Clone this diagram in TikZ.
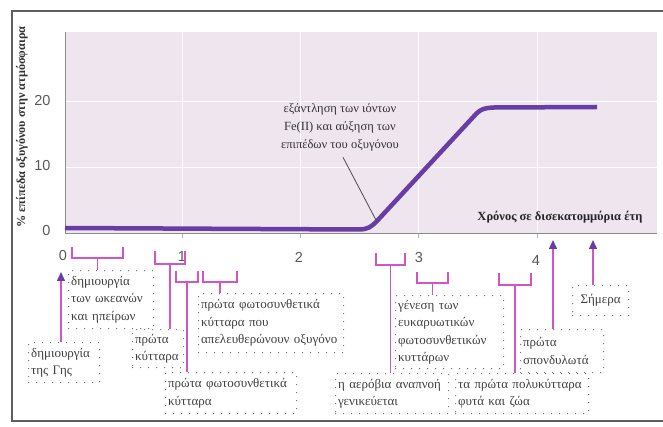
\documentclass[tikz,border=0pt]{standalone}
\usepackage{fontspec}
\setmainfont{Liberation Serif}
\newfontfamily\numfont{Liberation Sans}
\usetikzlibrary{arrows.meta}
\definecolor{plotbg}{RGB}{238,229,239}
\definecolor{curvecol}{RGB}{104,62,165}
\definecolor{brkcol}{RGB}{208,86,200}
\definecolor{framecol}{RGB}{95,95,95}
\definecolor{dotcol}{RGB}{105,105,105}
\newcommand{\brk}[5]{ \draw[brkline] (#2,#4) -- (#2,#5) -- (#3,#5) -- (#3,#4); \coordinate (#1) at ({(#2+#3)/2},#5);}
\tikzset{
  brkline/.style={brkcol, line width=1.5pt},
  evarrow/.style={brkcol, line width=1.5pt, -{Triangle[width=8pt,length=9pt,color=curvecol]}},
  evbox/.style={draw=dotcol, line width=1.3pt, dash pattern=on 0pt off 8pt, line cap=round,
    anchor=north west, inner xsep=2.5pt, inner ysep=0pt, align=left, text=black!75,
    font=\fontsize{13}{17.5}\selectfont},
  ticklbl/.style={font=\numfont\fontsize{14.5}{16}\selectfont, text=black!65},
}
\begin{document}
\begin{tikzpicture}[x=1pt, y=-1pt]
        \useasboundingbox (0,0) rectangle (663,427);
        % frame and plot
        \draw[framecol, line width=1.6pt] (663,11) -- (12,11) -- (12,421) -- (663,421);
        \fill[plotbg] (65,32) rectangle (657,233);
        \foreach \gx in {182,300,418,537} \draw[white, line width=1pt] (\gx,32) -- (\gx,233);
        \foreach \gy in {102,168} \draw[white, line width=1pt] (65,\gy) -- (657,\gy);
        \foreach \gx in {182,300,418,537} \draw[black!30] (\gx,233) -- (\gx,238);
        \draw[black!45] (65,32) -- (65,233) -- (657,233);

        % axis labels
        \node[ticklbl, anchor=east] (y20) at (54,101) {20};
        \node[ticklbl, anchor=east] (y10) at (54,166) {10};
        \node[ticklbl, anchor=east] (y0) at (54,231) {0};
        \node[ticklbl] (x0) at (63,256) {0};
        \node[ticklbl] (x1) at (182,257) {1};
        \node[ticklbl] (x2) at (299,257) {2};
        \node[ticklbl] (x3) at (419,258) {3};
        \node[ticklbl] (x4) at (536,261) {4};
        \node[rotate=90, text=black!80, font=\bfseries\fontsize{12.2}{13}\selectfont] (ytitle) at (22,127) {\% επίπεδα οξυγόνου στην ατμόσφαιρα};
        \node[text=black!85, font=\bfseries\fontsize{12.5}{14}\selectfont] (xtitle) at (560,217) {Χρόνος σε δισεκατομμύρια έτη};

        % oxygen curve
        \draw[curvecol, line width=4.5pt] (65,228) -- (358,229.5) .. controls (368,229.5) and (371,227) .. (377,221)
            -- (476,114) .. controls (481,109) and (484,108) .. (494,107.5) -- (597,107);
        \node[align=center, text=black!80, font=\fontsize{12.5}{18}\selectfont] (fe) at (340,127) {εξάντληση των ιόντων\\Fe(II) και αύξηση των\\επιπέδων του οξυγόνου};
        \coordinate (feEnd) at (377,222);
        \draw[black!70, line width=0.8pt] ([xshift=3pt,yshift=-3pt]fe.south) -- (feEnd);

        % brackets
        \brk{b1}{72}{123}{247}{258}
        \brk{b2}{155}{185}{251}{264}
        \brk{b3}{176}{198}{271}{282}
        \brk{b4}{203}{237}{271}{282}
        \brk{b5}{376}{405}{253}{265}
        \brk{b6}{417}{448}{272}{283}
        \brk{b7}{499}{531}{273}{285}

        % event boxes
        \node[evbox, text width=80pt, minimum height=58pt] (eOcean) at (68,270) {δημιουργία\\των ωκεανών\\και ηπείρων};
        \node[evbox, text width=66pt, minimum height=40pt] (eEarth) at (28,342) {δημιουργία\\της Γης};
        \node[evbox, text width=46pt, minimum height=38pt] (eCell) at (132,329) {πρώτα\\κύτταρα};
        \node[evbox, text width=126pt, minimum height=41pt] (ePhoto) at (165,372) {πρώτα φωτοσυνθετικά\\κύτταρα};
        \node[evbox, text width=140pt, minimum height=59pt] (eOxy) at (198,293) {πρώτα φωτοσυνθετικά\\κύτταρα που\\απελευθερώνουν οξυγόνο};
        \node[evbox, text width=108pt, minimum height=40pt] (eAerob) at (335,373) {η αερόβια αναπνοή\\γενικεύεται};
        \node[evbox, text width=103pt, minimum height=73pt] (eEuk) at (395,295) {γένεση των\\ευκαρυωτικών\\φωτοσυνθετικών\\κυττάρων};
        \node[evbox, text width=128pt, minimum height=40pt] (eMulti) at (455,373) {τα πρώτα πολυκύτταρα\\φυτά και ζώα};
        \node[evbox, text width=78pt, minimum height=43pt] (eVert) at (520,329) {πρώτα\\σπονδυλωτά};
        \node[evbox, text width=51pt, minimum height=30pt, align=center] (eToday) at (572,285) {Σήμερα};

        % stems
        \draw[brkline] (b1) -- (b1 |- eOcean.north);
        \draw[brkline] (b2) -- (b2 |- eCell.north);
        \draw[brkline] (b3) -- (b3 |- ePhoto.north);
        \draw[brkline] (b4) -- (b4 |- eOxy.north);
        \draw[brkline] (b5) -- (b5 |- eAerob.north);
        \draw[brkline] (b6) -- (b6 |- eEuk.north);
        \draw[brkline] (b7) -- (b7 |- eMulti.north);

        % arrows
        \coordinate (tEarth) at (61,272);
        \coordinate (tVert) at (553,240);
        \coordinate (tToday) at (593,240);
        \draw[evarrow] (tEarth |- eEarth.north) -- (tEarth);
        \draw[evarrow] (tVert |- eVert.north) -- (tVert);
        \draw[evarrow] (tToday |- eToday.north) -- (tToday);
\end{tikzpicture}
\end{document}
